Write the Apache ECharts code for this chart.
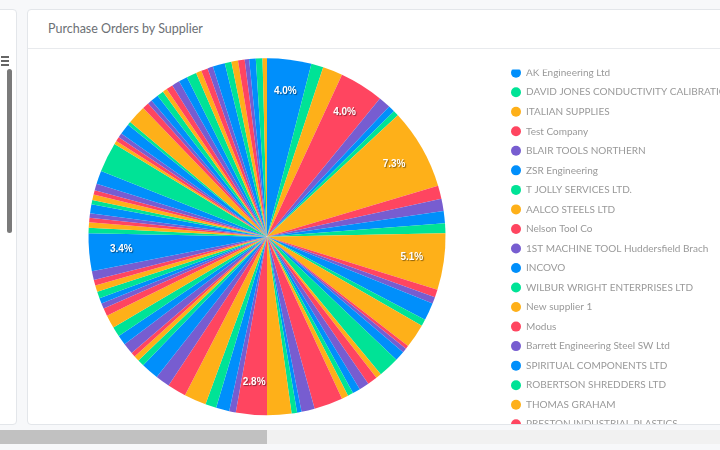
<!DOCTYPE html>
<html>
<head>
<meta charset="utf-8">
<script src="https://cdn.jsdelivr.net/npm/echarts@6/dist/echarts.min.js"></script>
<style>
  html, body { margin: 0; padding: 0; }
  body { width: 720px; height: 450px; overflow: hidden; background: #f7f8fa; position: relative; font-family: Lato, "Open Sans", sans-serif; }
  .side { position: absolute; left: -10px; top: 9px; width: 25px; height: 414px; background: #fff; border: 1px solid #e3e6ea; border-radius: 4px; }
  .side .menu { position: absolute; left: 10px; top: 46px; width: 8px; }
  .side .menu i { display: block; height: 1.5px; background: #666; margin-bottom: 2.5px; }
  .side .bar { position: absolute; left: 16px; top: 59px; width: 5px; height: 164px; background: #7a7a7a; border-radius: 3px; }
  .card { position: absolute; left: 27px; top: 9px; width: 720px; height: 414px; background: #fff; border: 1px solid #e3e6ea; border-radius: 4px; overflow: hidden; }
  .card-header { height: 38px; line-height: 38px; border-bottom: 1px solid #e8eaed; padding-left: 20px; font-size: 12.5px; color: #6c7075; }
  #chart { width: 692px; height: 375px; }
  .hscroll { position: absolute; left: 0; top: 430px; width: 720px; height: 14px; background: #f1f1f1; }
  .hscroll .thumb { width: 267px; height: 14px; background: #c1c1c1; }
</style>
</head>
<body>
<div class="side">
  <div class="menu"><i></i><i></i><i></i></div>
  <div class="bar"></div>
</div>
<div class="card">
  <div class="card-header">Purchase Orders by Supplier</div>
  <div id="chart"></div>
</div>
<div class="hscroll"><div class="thumb"></div></div>
<script>
  // visible legend entries (the rest of the list is scrolled out of view)
  const suppliers = [
    "AK Engineering Ltd",
    "DAVID JONES CONDUCTIVITY CALIBRATION",
    "ITALIAN SUPPLIES",
    "Test Company",
    "BLAIR TOOLS NORTHERN",
    "ZSR Engineering",
    "T JOLLY SERVICES LTD.",
    "AALCO STEELS LTD",
    "Nelson Tool Co",
    "1ST MACHINE TOOL Huddersfield Brach",
    "INCOVO",
    "WILBUR WRIGHT ENTERPRISES LTD",
    "New supplier 1",
    "Modus",
    "Barrett Engineering Steel SW Ltd",
    "SPIRITUAL COMPONENTS LTD",
    "ROBERTSON SHREDDERS LTD",
    "THOMAS GRAHAM",
    "PRESTON INDUSTRIAL PLASTICS",
  ];

  // share of purchase orders per supplier (%), in pie order
  const orderShare = [
    4.0, 1.1, 1.8, 4.0, 1.1, 0.6, 0.5, 7.3, 1.2, 1.1,
    1.1, 0.9, 5.1, 0.7, 0.6, 1.6, 0.6, 2.2, 0.3, 0.4,
    0.9, 1.9, 0.5, 0.9, 0.9, 0.7, 0.5, 0.6, 2.6, 1.2,
    0.4, 0.5, 2.2, 2.8, 0.6, 1.2, 1.0, 2.0, 1.7, 1.3,
    1.6, 0.6, 0.5, 0.4, 1.0, 0.9, 0.9, 1.2, 0.7, 0.5,
    0.5, 0.6, 0.6, 0.5, 0.8, 3.4, 0.5, 0.5, 0.4, 0.4,
    0.8, 0.4, 0.5, 0.4, 0.6, 1.2, 2.7, 0.3, 0.4, 0.4,
    1.0, 0.3, 1.7, 0.6, 0.4, 0.7, 0.6, 0.4, 0.6, 0.7,
    0.8, 0.9, 0.5, 0.6, 0.5, 1.1, 0.6, 0.6, 0.6, 0.4,
    0.6, 0.6, 0.4,
  ];

  const palette = ["#008FFB", "#00E396", "#FEB019", "#FF4560", "#775DD0"];

  const pieData = orderShare.map((value, i) => ({ value, name: suppliers[i] || "" }));
  const center = [239, 187.7];
  const outer = 178.5;

  const chart = echarts.init(document.getElementById("chart"));
  chart.setOption({
    animation: false,
    color: palette,
    legend: {
      orient: "vertical",
      left: 478,
      top: 12.7,
      height: 2000,
      data: suppliers,
      icon: "circle",
      itemWidth: 10,
      itemHeight: 10,
      itemGap: 7.53,
      selectedMode: false,
      textStyle: {
        color: "#999",
        fontSize: 10,
        lineHeight: 12,
        fontFamily: "Lato, 'Open Sans', sans-serif",
      },
    },
    graphic: [
      {
        // legend viewport is scrolled a little: the first marker is cut at the top
        type: "rect",
        z: 100,
        shape: { x: 470, y: 0, width: 230, height: 20.5 },
        style: { fill: "#fff" },
        silent: true,
      },
    ],
    series: [
      {
        type: "pie",
        center,
        radius: [0, outer],
        startAngle: 90,
        data: pieData,
        label: { show: false },
        labelLine: { show: false },
        itemStyle: { borderWidth: 0 },
        emphasis: { disabled: true },
      },
      {
        // transparent copy that only carries the percentage labels
        type: "pie",
        center,
        radius: [108, outer],
        startAngle: 90,
        data: pieData,
        silent: true,
        legendHoverLink: false,
        minShowLabelAngle: 10,
        itemStyle: { color: "rgba(0,0,0,0)", borderWidth: 0 },
        emphasis: { disabled: true },
        labelLine: { show: false },
        label: {
          show: true,
          position: "inside",
          formatter: (p) => p.percent.toFixed(1) + "%",
          color: "#fff",
          fontSize: 10,
          fontWeight: "bold",
          fontFamily: "'Liberation Sans', Arial, sans-serif",
          textShadowColor: "rgba(0,0,0,0.45)",
          textShadowBlur: 1,
          textShadowOffsetX: 1,
          textShadowOffsetY: 1,
        },
      },
    ],
  });
</script>
</body>
</html>
